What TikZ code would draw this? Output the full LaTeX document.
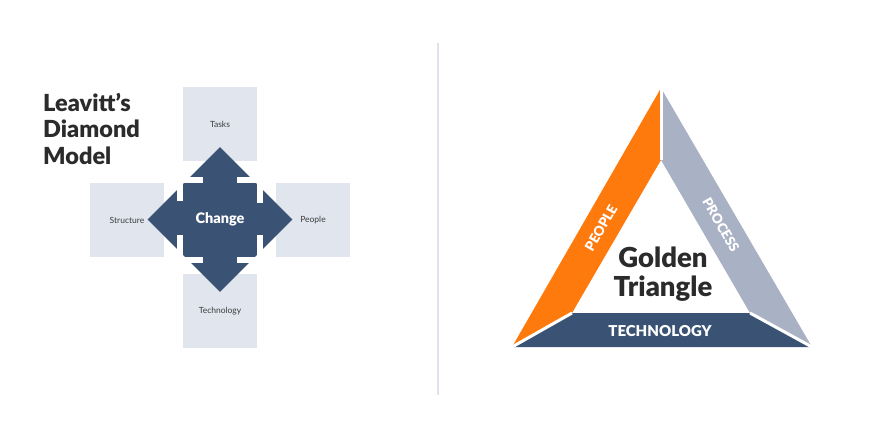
\documentclass[tikz,border=0pt]{standalone}
\usepackage{fontspec}
\setmainfont{Lato}
\newfontfamily\heavyfont{Lato Black}
\usetikzlibrary{shapes.geometric}
\definecolor{navy}{HTML}{3A5274}
\definecolor{orng}{HTML}{FF7A0D}
\definecolor{slate}{HTML}{A9B1C4}
\definecolor{boxgray}{HTML}{E1E5EE}
\definecolor{ink}{HTML}{2B2B2B}
\definecolor{labelink}{HTML}{3C3C3C}
\definecolor{divider}{HTML}{E0E3EC}
\begin{document}
\begin{tikzpicture}[x=1pt,y=-1pt,
  box/.style={fill=boxgray, minimum width=74pt, minimum height=74pt, inner sep=0pt,
    text=labelink, font=\fontsize{8.5}{10}\selectfont},
  bracket/.style={draw=white, line width=6pt, line join=miter},
  band/.style={draw=white, line width=3pt},
  bandlabel/.style={text=white, font=\heavyfont\fontsize{13.5}{15}\selectfont, inner sep=0pt}]
\useasboundingbox (0,0) rectangle (880,440);
\fill[white] (0,0) rectangle (880,440);
% title
\node[anchor=north west, align=left, text=ink, inner sep=0pt,
  font=\heavyfont\fontsize{23.5}{26.5}\selectfont] (title) at (43,93) {Leavitt’s\\Diamond\\Model};
% boxes
\node[box] (tasks) at (220,124) {Tasks};
\node[box] (structure) at (127,220) {Structure};
\node[box] (people) at (313,220) {People};
\node[box] (technology) at (220,311) {Technology};
% diamond
\node[diamond, aspect=1, fill=navy, minimum width=145pt, minimum height=145pt, inner sep=0pt,
  text=white, font=\heavyfont\fontsize{14.5}{16}\selectfont] (change) at (220,219.5) {Change};
% brackets
\draw[bracket] (179.7,201) -- (179.7,179.7) -- (203.3,179.7);
\draw[bracket] (237.3,179.7) -- (259.7,179.7) -- (259.7,202.7);
\draw[bracket] (179.7,235) -- (179.7,259.7) -- (202.7,259.7);
\draw[bracket] (237.3,259.7) -- (259.7,259.7) -- (259.7,235);
% divider
\draw[divider, line width=2pt] (438,43) -- (438,395);
% golden triangle
\coordinate (top) at (661,88);
\coordinate (itop) at (661,160);
\coordinate (ibl) at (572,313);
\coordinate (ibr) at (750,313);
\coordinate (obl) at (512,347);
\coordinate (obr) at (812,347);
\fill[orng] (top) -- (itop) -- (ibl) -- (obl) -- cycle;
\fill[slate] (top) -- (obr) -- (ibr) -- (itop) -- cycle;
\fill[navy] (ibl) -- (ibr) -- (obr) -- (obl) -- cycle;
\draw[band] (top) -- (itop);
\draw[band] (ibl) -- (obl);
\draw[band] (ibr) -- (obr);
\node[bandlabel, rotate=60] (plabel) at (601,228) {PEOPLE};
\node[bandlabel, rotate=-60] (prlabel) at (721,225) {PROCESS};
\node[bandlabel, font=\heavyfont\fontsize{15}{16}\selectfont] (tlabel) at (660,331) {TECHNOLOGY};
\node[align=center, text=ink, inner sep=0pt, font=\heavyfont\fontsize{27.5}{28.5}\selectfont]
  (golden) at (663,274) {Golden\\Triangle};
\end{tikzpicture}
\end{document}
